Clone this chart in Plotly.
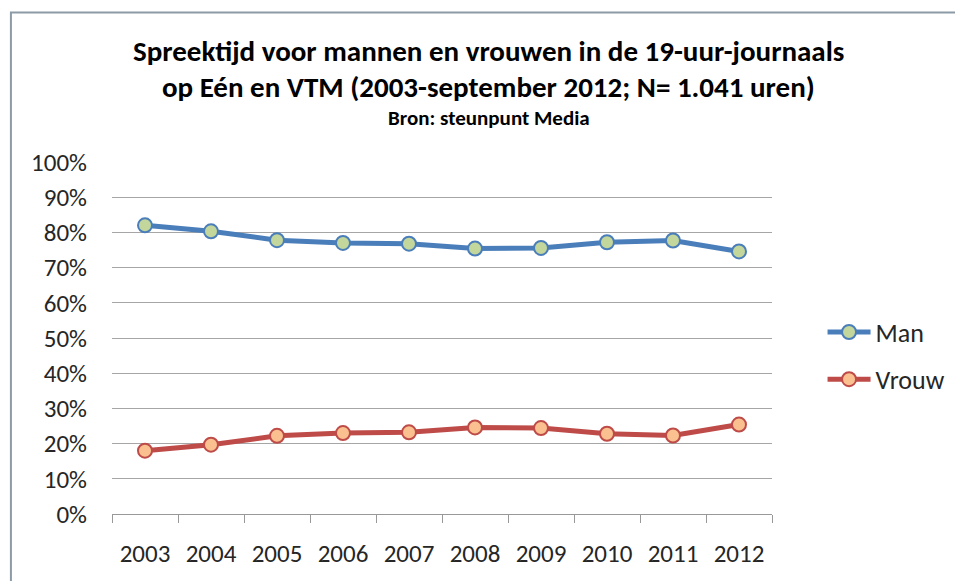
import plotly.graph_objects as go

years = ["2003", "2004", "2005", "2006", "2007", "2008", "2009", "2010", "2011", "2012"]
man = [82.0, 80.3, 77.8, 77.0, 76.8, 75.4, 75.6, 77.2, 77.7, 74.6]
vrouw = [18.0, 19.7, 22.2, 23.0, 23.2, 24.6, 24.4, 22.8, 22.3, 25.4]
y_ticks = [0, 10, 20, 30, 40, 50, 60, 70, 80, 90, 100]
y_ticklabels = [f"{v}%" for v in y_ticks]

FONT = "Carlito, Lato, Open Sans, sans-serif"
OFF = 8  # page body margin
W, H = 963 - OFF, 581 - OFF
L, R, T, B = 112 - OFF, 185, 162 - OFF, 61
pw, ph = W - L - R, H - T - B

def px(x):
    return (x - OFF - L) / pw

def py(y):
    return (H - B - (y - OFF)) / ph

fig = go.Figure()
fig.add_trace(go.Scatter(
    x=years, y=man, name="Man", mode="lines+markers",
    line=dict(color="#4a7ebb", width=5),
    marker=dict(size=14, color="#c3d69b", line=dict(color="#4a7ebb", width=2)),
    legend="legend",
))
fig.add_trace(go.Scatter(
    x=years, y=vrouw, name="Vrouw", mode="lines+markers",
    line=dict(color="#be4b48", width=5),
    marker=dict(size=14, color="#fac090", line=dict(color="#be4b48", width=2)),
    legend="legend2",
))

TICKFONT = dict(size=25, family=FONT, color="#262626")
fig.update_layout(
    width=W, height=H,
    margin=dict(l=L, r=R, t=T, b=B, pad=0),
    paper_bgcolor="white", plot_bgcolor="white",
    font=dict(family=FONT, color="#262626", size=20),
    xaxis=dict(
        type="category", tickson="boundaries", ticks="outside", ticklen=8,
        tickcolor="#999999", showline=True, linecolor="#999999", linewidth=1,
        showgrid=False, tickfont=TICKFONT, ticklabelstandoff=17,
        range=[-0.5, 9.5], fixedrange=True,
    ),
    yaxis=dict(
        range=[0, 100], tickvals=y_ticks, ticktext=y_ticklabels,
        showgrid=True, gridcolor="#a6a6a6", gridwidth=1, zeroline=False,
        showline=False, ticks="", ticklabelstandoff=24,
        tickfont=TICKFONT,
    ),
    legend=dict(x=px(829), y=py(335), xanchor="left", yanchor="middle",
                font=dict(size=26, family=FONT, color="#262626"),
                itemwidth=43, bgcolor="rgba(0,0,0,0)"),
    legend2=dict(x=px(829), y=py(383), xanchor="left", yanchor="middle",
                 font=dict(size=26, family=FONT, color="#262626"),
                 itemwidth=43, bgcolor="rgba(0,0,0,0)"),
    showlegend=True,
)

fig.add_annotation(text="<b>Spreektijd voor mannen en vrouwen in de 19-uur-journaals</b>",
                   x=px(492), y=py(49), xref="paper", yref="paper", showarrow=False,
                   xanchor="center", yanchor="middle",
                   font=dict(size=29, family=FONT, color="#000000"))
fig.add_annotation(text="<b>op Eén en VTM (2003-september 2012; N= 1.041 uren)</b>",
                   x=px(492), y=py(86), xref="paper", yref="paper", showarrow=False,
                   xanchor="center", yanchor="middle",
                   font=dict(size=29, family=FONT, color="#000000"))
fig.add_annotation(text="<b>Bron: steunpunt Media</b>",
                   x=px(492), y=py(117), xref="paper", yref="paper", showarrow=False,
                   xanchor="center", yanchor="middle",
                   font=dict(size=21, family=FONT, color="#000000"))

fig.add_shape(type="rect", xref="paper", yref="paper",
              x0=px(10), x1=px(1000), y0=py(10), y1=py(640),
              line=dict(color="#8c9ba5", width=2), fillcolor="rgba(0,0,0,0)", layer="below")

fig.write_html("out.html")
